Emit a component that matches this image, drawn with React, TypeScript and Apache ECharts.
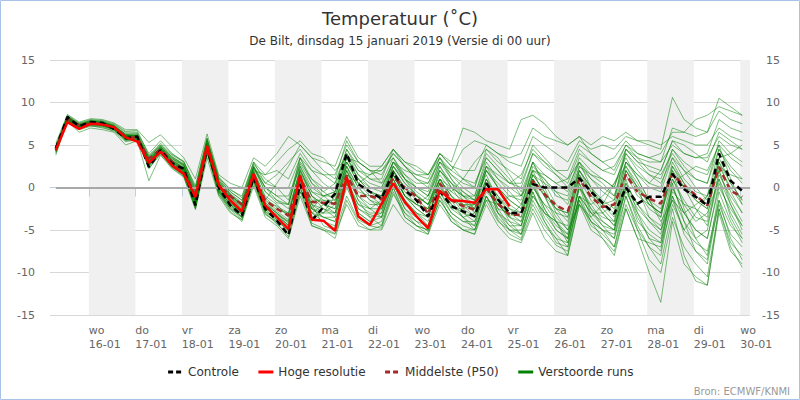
import React, { useEffect, useRef } from "react";
import * as echarts from "echarts";

const FONT = "DejaVu Sans";

// forecast lead times (hours after the 00 UTC run of 15-01, 6-hourly)
const leadHours = [
  6, 12, 18, 24, 30, 36, 42, 48, 54, 60, 66, 72, 78, 84, 90, 96, 102, 108, 114, 120,
  126, 132, 138, 144, 150, 156, 162, 168, 174, 180, 186, 192, 198, 204, 210, 216, 222, 228, 234, 240,
  246, 252, 258, 264, 270, 276, 282, 288, 294, 300, 306, 312, 318, 324, 330, 336, 342, 348, 354, 360,
];

// local midnight of 16-01 is lead +23h
const firstMidnight = 23;
const dayNames = ["wo", "do", "vr", "za", "zo", "ma", "di", "wo", "do", "vr", "za", "zo", "ma", "di", "wo"];
const dayDates = ["16-01", "17-01", "18-01", "19-01", "20-01", "21-01", "22-01", "23-01", "24-01", "25-01", "26-01", "27-01", "28-01", "29-01", "30-01"];

const yTicks = [-15, -10, -5, 0, 5, 10, 15];

const controle = [
  4.6, 8.3, 7.2, 7.7, 7.6, 6.9, 5.8, 6.0, 2.4, 4.4, 2.8, 2.2,
  -2.1, 4.6, 0.0, -2.1, -3.3, 1.2, -2.5, -3.9, -5.6, 0.4, -3.9, -2.3,
  -0.7, 4.0, 0.4, -0.5, -1.3, 1.8, -0.3, -1.5, -3.4, -0.4, -2.2, -2.8,
  -3.4, 0.5, -1.4, -3.0, -3.0, 0.4, 0.0, 0.0, 0.0, 1.1, -0.5, -1.8,
  -3.1, 0.0, -1.9, -1.1, -1.1, 1.6, -0.2, -1.1, -2.1, 4.0, 0.8, -0.4,
];

const hogeResolutie = [
  4.4, 7.7, 6.9, 7.5, 7.4, 7.1, 5.9, 5.4, 2.9, 4.2, 2.6, 1.6,
  -1.1, 4.9, 0.3, -1.5, -2.8, 1.6, -2.1, -3.5, -4.9, 1.4, -3.8, -3.9,
  -5.1, 1.2, -3.4, -4.4, -1.9, 0.5, -1.7, -3.4, -4.8, -0.4, -1.5, -1.6,
  -1.8, -0.2, -0.2, -2.2,
];

const middelste = [
  4.5, 8.1, 7.3, 7.6, 7.5, 7.0, 6.0, 5.8, 3.4, 4.5, 3.0, 2.0,
  -1.0, 4.7, 0.3, -1.0, -2.0, 1.5, -1.5, -2.5, -3.3, 1.2, -1.7, -1.8,
  -1.9, 1.4, -1.0, -1.0, -1.4, 1.2, 0.0, -1.1, -3.1, 0.5, -1.5, -2.2,
  -2.6, -0.1, -1.9, -3.2, -3.2, 0.8, -0.8, -2.1, -2.8, 1.0, -1.1, -2.3,
  -2.0, 1.5, -0.5, -1.3, -1.9, 1.6, 0.2, -0.9, -2.1, 2.4, -0.4, -1.1,
];

const run01 = [4.3, 8.4, 7.4, 7.8, 7.7, 7.0, 6.1, 6.2, 3.0, 4.8, 3.3, 2.5, -1.5, 5.2, 0.6, -1.2, -2.5, 2.0, -1.0, -2.0, -3.5, 2.5, -0.5, -1.5, -2.0, 3.0, 0.5, -0.5, -1.0, 2.5, 0.5, -0.8, -2.0, 1.5, -0.5, -1.5, -2.5, 2.0, 0.5, -1.0, -1.5, 3.0, 1.5, 0.5, -0.5, 3.5, 2.0, 1.0, 0.0, 4.0, 2.5, 1.5, 1.0, 4.5, 3.0, 2.0, 1.5, 5.0, 3.5, 2.5];
const run02 = [4.7, 8.1, 7.0, 7.4, 7.3, 6.8, 5.6, 5.7, 2.2, 4.0, 2.6, 1.8, -2.4, 4.2, -0.5, -2.6, -3.8, 0.8, -3.0, -4.2, -5.8, -0.5, -4.2, -4.8, -5.4, -1.0, -3.8, -4.5, -4.8, -0.8, -3.0, -4.0, -5.2, -1.5, -3.5, -4.5, -5.0, -1.0, -3.8, -5.5, -6.2, -2.5, -5.0, -6.8, -7.5, -1.5, -4.5, -5.5, -7.0, -2.0, -5.0, -8.5, -10.0, -3.5, -7.0, -9.0, -10.5, -2.5, -6.5, -8.0];
const run03 = [4.4, 8.2, 7.3, 7.5, 7.5, 7.2, 6.3, 5.9, 3.5, 4.6, 3.1, 2.3, -0.8, 4.8, 0.2, -1.8, -3.0, 1.3, -2.0, -3.0, -4.0, 1.0, -2.5, -3.5, -4.0, 0.5, -2.5, -3.2, -3.5, 1.0, -1.5, -3.0, -4.0, 0.0, -2.0, -3.5, -4.5, 0.5, -2.5, -4.5, -5.5, -0.5, -3.5, -5.5, -7.0, -1.0, -4.0, -6.0, -7.5, -2.5, -6.0, -10.0, -13.5, -4.0, -9.0, -10.5, -11.5, -3.0, -7.5, -9.0];
const run04 = [4.9, 8.3, 7.5, 7.9, 7.8, 7.4, 6.5, 6.5, 4.0, 5.5, 4.0, 3.0, 0.2, 5.8, 1.2, -0.3, -1.0, 3.0, 0.5, 1.5, 3.0, 4.5, 2.5, 1.5, 0.5, 4.5, 2.5, 1.0, 0.5, 3.5, 1.5, 0.0, -0.5, 3.0, 2.0, 4.5, 5.5, 5.0, 4.0, 3.0, 2.5, 6.0, 5.0, 4.0, 3.0, 5.5, 4.5, 5.0, 4.5, 6.0, 5.5, 5.0, 4.5, 10.6, 8.0, 7.0, 6.5, 10.5, 9.5, 8.5];
const run05 = [4.2, 8.0, 6.8, 7.2, 7.1, 6.6, 5.4, 5.6, 2.7, 4.3, 2.8, 1.9, -1.8, 4.5, -0.2, -2.0, -3.2, 1.8, -1.5, 0.5, 2.5, 5.0, 3.5, 2.0, 1.0, 5.5, 3.0, 2.0, 1.5, 4.0, 2.5, 1.0, 0.5, 3.5, 1.0, -0.5, -1.5, 2.5, 0.0, -2.0, -3.0, 1.5, -0.5, -2.5, -4.0, 1.0, -1.5, -3.0, -4.5, 1.5, -1.0, -2.0, -3.0, 2.5, 0.5, -1.0, -2.0, 3.0, 0.5, -1.5];
const run06 = [4.6, 8.5, 7.6, 8.0, 7.9, 7.5, 6.6, 6.7, 3.8, 5.0, 3.6, 2.8, -0.5, 5.5, 0.8, -0.8, -2.2, 2.5, -0.5, -1.5, -2.5, 2.0, -1.0, -2.5, -3.5, 1.5, -1.5, -2.5, -2.5, 2.0, -0.5, -2.0, -3.0, 1.0, -1.0, -2.5, -3.5, 1.0, -1.5, -3.5, -4.5, 0.5, -2.5, -4.5, -5.5, 0.0, -2.5, -3.5, -4.0, 2.0, -0.5, -2.5, -3.5, 2.5, 0.0, -2.5, -3.5, 3.5, 0.5, -1.5];
const run07 = [4.0, 7.8, 6.5, 7.0, 6.8, 6.5, 5.0, 5.5, 0.8, 3.8, 2.2, 1.2, -2.6, 3.5, -1.0, -3.0, -3.8, 0.5, -3.2, -4.0, -5.0, 0.0, -3.5, -3.0, -1.0, 2.5, 0.0, -1.5, -2.0, 1.5, -1.0, -2.5, -3.5, 0.5, -2.0, -3.0, -4.0, -0.5, -2.0, -3.5, -2.0, 2.0, 1.0, -1.0, -1.5, 2.5, 1.0, -0.5, -1.5, 3.0, 1.5, 0.0, -0.5, 3.5, 1.0, -0.5, -1.0, 4.5, 2.0, 0.5];
const run08 = [4.8, 8.0, 7.1, 7.6, 7.4, 7.0, 6.0, 6.1, 3.2, 4.7, 3.4, 2.6, -1.0, 5.0, 0.5, -1.0, -2.0, 2.2, 0.0, -1.0, -2.0, 3.0, 1.0, -0.5, -1.5, 3.5, 1.5, 0.5, 0.0, 3.0, 2.0, 1.5, 1.5, 4.0, 3.0, 7.0, 6.5, 5.5, 5.0, 4.5, 8.0, 8.5, 7.5, 6.0, 5.0, 6.0, 5.0, 6.0, 5.5, 6.5, 5.5, 5.5, 5.0, 6.0, 5.5, 5.0, 5.0, 7.0, 6.0, 5.5];
const run09 = [4.5, 8.3, 7.2, 7.6, 7.6, 7.1, 5.9, 5.8, 2.5, 4.4, 2.9, 2.1, -2.0, 4.4, -0.8, -2.8, -4.0, 0.2, -3.5, -4.5, -6.0, -1.0, -4.5, -5.0, -5.5, -2.0, -4.5, -5.0, -5.0, -2.0, -4.0, -5.0, -5.5, -2.0, -4.0, -5.0, -5.5, -2.0, -4.5, -6.0, -6.5, -3.0, -6.0, -7.5, -8.0, -2.0, -5.0, -6.0, -8.0, -2.5, -6.0, -6.5, -7.0, -2.0, -5.0, -6.5, -7.5, -1.5, -4.5, -6.0];
const run10 = [5.2, 8.6, 7.7, 8.1, 8.0, 7.6, 6.8, 6.8, 5.3, 6.2, 4.8, 3.5, 1.0, 6.3, 1.5, 0.5, 0.0, 3.5, 2.5, 4.0, 6.0, 5.0, 3.5, 3.0, 2.5, 6.0, 3.5, 2.5, 2.5, 4.5, 3.0, 2.5, 1.5, 4.0, 2.5, 1.0, 0.5, 3.5, 2.0, 0.5, 0.0, 4.0, 3.0, 2.0, 2.0, 5.0, 4.0, 3.0, 3.5, 5.5, 4.0, 3.5, 3.0, 5.0, 4.0, 3.5, 3.5, 6.0, 5.0, 4.5];
const run11 = [3.8, 7.9, 7.0, 7.3, 7.0, 6.7, 5.7, 5.9, 2.8, 4.2, 2.5, 1.5, -1.6, 4.0, 0.0, -1.5, -2.8, 1.0, -2.0, -3.0, -4.5, 0.5, -3.0, -4.0, -4.5, 0.0, -3.0, -4.0, -3.5, 0.5, -2.5, -3.5, -4.5, -1.0, -3.0, -4.0, -4.0, 0.0, -2.0, -2.5, -3.0, 1.0, -1.0, -3.5, -5.0, 0.5, -2.5, -4.5, -6.0, 0.0, -4.0, -5.5, -6.5, 0.0, -3.0, -5.0, -6.0, 0.0, -2.5, -4.5];
const run12 = [4.3, 7.8, 7.0, 7.5, 7.3, 7.0, 5.8, 5.6, 3.0, 4.3, 2.7, 1.7, -1.3, 4.8, 0.2, -1.8, -3.0, 1.5, -2.3, -3.6, -4.8, 1.5, -3.5, -4.0, -4.8, 1.5, -3.0, -4.0, -2.5, 1.0, -1.5, -3.0, -4.5, 0.0, -1.5, -2.0, -2.5, 0.5, -1.0, -3.0, -4.0, 0.0, -2.0, -4.0, -6.0, -1.0, -3.0, -4.5, -5.0, 0.5, -2.0, -3.5, -4.5, 1.0, -1.5, -3.5, -4.0, 1.5, -1.0, -3.0];
const run13 = [4.6, 8.2, 7.4, 7.7, 7.6, 7.3, 6.2, 6.0, 3.6, 4.9, 3.5, 2.7, -0.3, 5.5, 1.0, -0.5, -1.5, 2.8, 1.0, 0.0, -1.5, 3.5, 1.0, 0.0, 0.0, 4.5, 2.0, 1.0, 1.0, 4.5, 2.5, 1.0, 0.0, 3.5, 2.0, 1.0, 0.0, 4.0, 2.5, 1.0, -1.0, 3.0, 0.5, -2.0, -3.5, 2.0, 0.0, -2.0, -3.0, 3.0, 1.0, -1.5, -3.5, 2.0, -2.5, -6.0, -8.0, -2.0, -5.5, -7.0];
const run14 = [4.4, 8.0, 7.1, 7.6, 7.5, 6.9, 5.7, 5.5, 2.6, 4.1, 2.4, 1.4, -2.2, 4.6, -0.3, -2.0, -3.5, 1.0, -2.5, -3.5, -5.0, 1.5, -2.0, -3.0, -3.0, 2.0, -1.0, -2.0, -2.0, 2.0, 0.0, -1.5, -2.5, 1.0, -1.0, -3.0, -3.5, 0.5, -3.0, -5.0, -6.0, -1.5, -4.0, -6.0, -8.0, -2.0, -4.0, -5.0, -6.0, -1.0, -4.5, -7.0, -9.0, -2.5, -8.0, -11.0, -11.5, -2.5, -7.0, -9.4];
const run15 = [4.7, 8.4, 7.5, 7.9, 7.8, 7.3, 6.3, 6.4, 3.5, 5.0, 3.8, 3.0, -0.2, 5.6, 1.2, -0.2, -1.2, 3.0, 1.5, 2.0, 1.0, 4.0, 2.0, 0.5, -0.5, 4.0, 1.5, 0.0, 0.0, 3.0, 1.0, -0.5, -1.5, 2.5, 0.5, -1.0, -2.0, 2.0, 0.0, -1.5, -2.5, 2.5, 1.0, -0.5, -1.0, 3.0, 1.5, 0.5, -1.0, 4.0, 2.0, 0.5, 0.0, 4.5, 2.5, 1.0, 0.5, 5.5, 4.0, 3.0];
const run16 = [4.1, 7.9, 6.9, 7.3, 7.2, 6.8, 5.5, 5.8, 2.3, 3.9, 2.3, 1.3, -2.5, 4.1, -0.8, -2.5, -3.5, 0.8, -2.8, -4.0, -4.5, 0.5, -2.0, -4.5, -5.0, 0.5, -3.5, -4.5, -4.0, 0.0, -3.0, -4.5, -5.0, -1.5, -3.5, -5.0, -5.0, -1.5, -4.0, -5.0, -5.0, -1.0, -3.0, -4.0, -4.5, 1.5, -1.0, -2.0, -1.5, 4.5, 3.0, 2.5, 2.0, 5.5, 4.0, 3.5, 4.0, 8.0, 7.0, 6.5];
const run17 = [4.5, 8.1, 7.2, 7.7, 7.7, 7.2, 6.0, 5.9, 3.1, 4.5, 3.0, 2.2, -1.2, 5.0, 0.4, -1.4, -2.6, 1.8, -1.6, -2.6, -3.0, 2.0, -0.5, -1.0, -0.5, 3.0, 0.5, -1.0, -2.0, 1.5, -1.0, -2.0, -2.5, 1.0, 0.0, -1.0, -1.0, 3.0, 1.0, -0.5, -2.0, 2.0, -1.0, -4.0, -6.5, 0.5, -3.0, -4.0, -5.0, 1.0, -3.0, -6.0, -7.5, 0.5, -4.0, -6.0, -5.0, 2.0, -2.0, -5.0];
const run18 = [4.8, 8.3, 7.3, 7.8, 7.6, 7.2, 6.1, 6.2, 3.3, 4.8, 3.6, 2.7, -0.6, 5.3, 0.7, -0.9, -2.0, 2.3, -0.5, -1.8, -2.0, 3.5, 0.5, -1.0, -1.0, 3.5, 1.0, -0.5, -1.0, 3.0, 1.5, 0.5, 0.5, 3.0, 1.5, 0.5, 0.0, 4.5, 3.0, 2.0, 1.0, 5.0, 3.5, 2.0, 1.0, 4.5, 3.0, 2.0, 2.5, 5.0, 4.0, 3.5, 4.0, 6.5, 6.5, 8.0, 8.5, 9.5, 9.0, 8.5];
const run19 = [4.3, 8.2, 7.2, 7.5, 7.4, 6.9, 5.8, 5.7, 2.4, 4.2, 2.6, 1.6, -1.9, 4.3, -0.5, -2.2, -3.2, 1.2, -2.6, -3.8, -5.2, 0.0, -4.5, -5.0, -6.0, -1.5, -4.0, -5.0, -4.5, -0.5, -3.5, -4.5, -5.5, -1.0, -4.0, -5.0, -5.5, -1.0, -3.0, -4.0, -4.5, 0.0, -2.0, -3.0, -3.5, 1.5, -0.5, -2.0, -3.5, 2.0, 0.0, -1.5, -2.5, 3.0, 0.5, -1.5, -2.5, 3.0, -0.5, -3.0];
const run20 = [4.6, 8.2, 7.3, 7.7, 7.6, 7.1, 6.0, 6.0, 2.9, 4.4, 2.9, 2.0, -1.4, 4.7, 0.3, -1.2, -2.4, 1.7, -1.5, -2.2, -3.0, 1.5, -1.5, -1.5, -1.5, 2.0, -0.5, -1.0, -1.0, 2.0, 0.0, -1.0, -2.0, 1.0, -1.0, -2.0, -2.0, 1.0, -1.0, -2.5, -3.5, 1.0, -1.0, -2.5, -3.0, 2.0, 0.0, -1.5, -2.5, 2.0, 0.0, -2.0, -3.0, 2.0, 0.0, -1.5, -2.5, 2.5, 0.0, -2.0];
const run21 = [4.5, 8.0, 7.1, 7.5, 7.4, 7.0, 5.9, 5.9, 3.0, 4.4, 2.8, 1.9, -1.5, 4.6, 0.0, -1.6, -3.0, 1.4, -2.2, -3.2, -4.0, 1.0, -3.0, -3.5, -3.5, 1.0, -2.0, -3.0, -3.0, 1.0, -2.0, -3.0, -3.5, 0.5, -2.5, -3.5, -3.0, 1.0, -2.0, -3.5, -4.0, 0.5, -3.0, -5.0, -6.0, 0.0, -3.5, -5.0, -7.0, -1.0, -5.0, -7.0, -8.0, -1.0, -5.5, -7.5, -9.0, -1.5, -6.0, -8.5];
const run22 = [4.9, 8.4, 7.4, 7.8, 7.7, 7.2, 6.2, 6.3, 3.7, 5.2, 3.9, 3.1, 0.0, 5.8, 1.0, -0.5, -1.5, 2.6, 0.0, -1.0, -1.0, 2.5, 0.0, -1.0, -2.0, 3.0, 1.0, 0.0, -0.5, 3.0, 1.0, 0.0, -1.0, 2.0, 0.0, -1.0, -1.5, 2.5, 1.5, 0.5, 0.5, 4.0, 2.5, 1.5, 0.5, 4.0, 3.0, 2.0, 1.5, 4.5, 3.0, 1.5, 0.5, 3.5, 2.0, 1.0, 0.5, 4.5, 2.5, 1.0];
const run23 = [4.2, 8.1, 7.0, 7.4, 7.2, 6.9, 5.6, 5.6, 2.7, 4.1, 2.4, 1.6, -2.1, 4.2, -0.4, -2.3, -3.4, 1.0, -2.8, -3.8, -4.8, 0.0, -3.0, -2.0, -2.5, 2.5, -1.0, -2.5, -3.5, 0.5, -2.5, -4.0, -4.5, -0.5, -3.0, -4.0, -4.5, -1.0, -3.5, -5.0, -5.5, -2.0, -4.5, -6.0, -6.5, -1.5, -4.0, -5.0, -5.5, 0.0, -2.5, -4.0, -5.0, 0.0, -3.0, -5.0, -6.0, 0.5, -3.0, -5.5];
const run24 = [4.6, 8.3, 7.3, 7.7, 7.6, 7.2, 6.1, 6.1, 3.3, 4.7, 3.2, 2.4, -0.8, 5.1, 0.8, -0.7, -1.8, 2.4, 0.5, 0.0, 0.0, 3.5, 2.0, 1.5, 1.5, 5.0, 3.0, 2.0, 2.0, 4.0, 2.5, 1.5, 1.0, 4.0, 2.5, 2.0, 2.0, 5.0, 4.0, 3.5, 4.0, 7.0, 6.0, 5.5, 5.0, 6.0, 4.0, 3.0, 2.0, 5.0, 3.5, 3.0, 3.0, 7.0, 6.5, 6.0, 6.5, 9.0, 8.0, 7.5];
const run25 = [4.4, 8.2, 7.2, 7.6, 7.5, 7.1, 6.0, 6.0, 3.0, 4.6, 3.1, 2.3, -1.3, 4.9, 0.5, -1.0, -2.2, 2.0, 1.5, 3.0, 4.5, 5.5, 4.0, 3.5, 2.0, 3.5, 3.0, 2.0, 0.5, 2.0, -1.0, -2.5, -3.5, 0.5, -0.5, 1.0, 3.0, 4.5, 3.5, 1.5, -0.5, 3.0, 0.0, -3.0, -5.0, -2.0, -3.5, -2.0, 0.5, 3.5, 1.0, -1.5, -4.0, -1.5, -5.0, -3.0, -1.0, 3.5, 4.0, 5.0];
const run26 = [4.5, 8.0, 7.1, 7.7, 7.6, 7.0, 6.0, 5.8, 2.8, 4.3, 2.7, 1.8, -1.7, 4.4, -0.3, -1.9, -3.0, 1.3, -1.8, -3.0, -4.2, 0.8, -2.0, -2.5, -3.0, 1.5, 0.5, 1.5, 2.0, 3.5, 1.0, -1.0, -2.0, 1.0, -1.5, -3.5, -5.0, -1.5, -2.0, -1.0, -1.0, 2.0, 1.5, 0.5, 1.0, 3.0, 0.0, -2.5, -4.0, 0.5, -2.0, -4.0, -5.5, 0.5, 1.5, 2.5, 2.0, 5.0, 1.0, -2.0];
const run27 = [4.6, 8.3, 7.2, 7.5, 7.4, 7.0, 5.9, 5.9, 3.2, 4.5, 3.0, 2.1, -1.4, 4.6, 0.2, -1.6, -2.9, 1.4, -2.0, -3.3, -4.5, 1.8, -1.0, -2.0, -2.5, 2.0, -1.5, -3.5, -4.5, 0.0, -3.5, -4.5, -5.0, -0.5, -2.5, -2.5, -2.0, 2.0, 0.0, -1.5, -2.5, 1.5, -0.5, -2.5, -3.0, 2.5, 1.5, 1.0, 0.0, 4.5, 3.5, 2.0, 1.5, 4.0, 2.0, 0.0, -1.5, 2.0, -1.5, -4.0];
const run28 = [4.3, 8.0, 7.0, 7.5, 7.3, 6.8, 5.7, 5.7, 2.6, 4.2, 2.5, 1.5, -2.3, 4.3, -0.6, -2.4, -3.6, 0.9, -3.0, -4.3, -5.5, -0.5, -2.5, -1.0, -0.5, 3.5, 1.0, -0.5, -1.5, 2.5, 0.5, -1.0, -2.0, 2.0, 0.5, -0.5, -1.5, 1.5, -1.5, -4.0, -5.5, -1.0, -3.0, -4.0, -5.5, 0.0, -2.0, -4.0, -5.0, 0.0, -3.5, -6.0, -6.5, -1.0, -4.0, -7.5, -8.5, -0.5, -4.0, -6.5];
const run29 = [4.7, 8.2, 7.3, 7.8, 7.7, 7.3, 6.2, 6.1, 3.4, 4.8, 3.4, 2.6, -0.9, 5.2, 0.6, -0.8, -1.9, 2.4, 0.0, -1.5, -2.0, 2.8, 0.5, -0.5, 0.5, 4.0, 2.0, 1.5, 2.5, 4.5, 3.0, 2.0, 1.5, 3.5, 1.5, 0.0, -1.0, 3.5, 2.0, 0.5, 1.5, 4.5, 3.0, 1.5, 0.0, 3.0, 1.0, 0.0, -1.0, 3.0, 1.5, 0.5, 2.0, 5.5, 5.0, 4.0, 3.0, 6.5, 5.5, 4.5];
const run30 = [4.5, 8.1, 7.2, 7.6, 7.5, 7.0, 5.9, 5.9, 2.9, 4.5, 3.0, 2.0, -1.6, 4.5, -0.1, -1.7, -2.7, 1.6, -1.8, -2.8, -3.8, 1.5, -2.5, -3.0, -2.0, 2.5, 0.0, -1.5, -2.5, 1.5, -1.0, -2.0, -2.5, 2.0, 0.5, -1.5, -3.0, 0.5, -3.0, -4.5, -4.5, -0.5, -4.0, -6.5, -7.0, -1.0, -3.0, -3.0, -2.0, 2.5, 0.5, -2.0, -3.0, 1.0, -2.0, -4.0, -3.0, 1.0, -3.5, -6.0];
const run31 = [4.4, 8.3, 7.3, 7.6, 7.5, 7.1, 6.0, 6.1, 3.1, 4.6, 3.2, 2.3, -1.1, 4.9, 0.4, -1.1, -2.3, 1.9, -1.2, -2.4, -3.2, 2.2, -1.0, -2.0, -3.0, 1.0, -2.5, -3.5, -3.0, 1.5, -1.0, -2.0, -1.0, 3.0, 1.0, -1.0, -2.5, 2.5, 1.0, 0.0, -1.0, 1.0, -2.5, -5.0, -6.0, -1.0, -2.0, -1.0, 0.5, 2.5, 0.0, -3.5, -5.0, -1.5, -3.0, -2.0, -1.0, 2.5, 1.5, 1.0];
const run32 = [4.6, 8.1, 7.1, 7.6, 7.5, 7.0, 5.8, 5.8, 2.7, 4.3, 2.7, 1.9, -1.8, 4.5, -0.3, -2.0, -3.1, 1.1, -2.4, -3.4, -4.4, 0.8, -2.5, -3.5, -4.0, 0.5, -2.0, -2.5, -1.5, 2.5, 1.0, 0.0, -1.0, 2.5, 0.0, -2.0, -3.5, 0.0, -2.5, -3.0, -3.5, 1.5, 0.5, -0.5, -2.0, 2.0, -0.5, -3.0, -4.5, -0.5, -3.0, -5.0, -6.0, -0.5, -2.0, -2.5, -4.5, 1.0, -2.0, -4.5];

const verstoordeRuns = [
  run01, run02, run03, run04, run05, run06, run07, run08, run09, run10, run11, run12, run13, run14, run15, run16,
  run17, run18, run19, run20, run21, run22, run23, run24, run25, run26, run27, run28, run29, run30, run31, run32,
];

const toPoints = (values: number[]) => values.map((v, i) => [leadHours[i], v]);

export default function App() {
  const chartRef = useRef<HTMLDivElement>(null);

  useEffect(() => {
    document.body.style.margin = "0";
    if (!chartRef.current) return;
    const chart = echarts.init(chartRef.current, null, { renderer: "svg" });

    const xMin = 3;
    const xMax = 364;
    const dayTicks = dayDates.map((_, i) => firstMidnight + i * 24);
    // alternate days shaded grey, starting with 16-01
    const bands = dayTicks
      .filter((_, i) => i % 2 === 0)
      .map((start) => [{ xAxis: start }, { xAxis: Math.min(start + 24, xMax) }]);

    const lineBase = { type: "line", symbol: "none", silent: true, animation: false };

    const option = {
      animation: false,
      title: {
        text: "Temperatuur (˚C)",
        subtext: "De Bilt, dinsdag 15 januari 2019 (Versie di 00 uur)",
        left: "center",
        top: 4,
        itemGap: 8,
        textStyle: { fontFamily: FONT, fontSize: 18, fontWeight: "normal", color: "#333" },
        subtextStyle: { fontFamily: FONT, fontSize: 12, color: "#333" },
      },
      legend: {
        bottom: 17,
        left: "center",
        itemWidth: 15,
        itemHeight: 10,
        itemGap: 18,
        itemStyle: { opacity: 0 },
        lineStyle: { width: 3 },
        textStyle: { fontFamily: FONT, fontSize: 12, color: "#333" },
        data: [
          { name: "Controle", lineStyle: { type: [5, 3] } },
          { name: "Hoge resolutie" },
          { name: "Middelste (P50)", lineStyle: { type: [5, 3] } },
          { name: "Verstoorde runs", lineStyle: { opacity: 1 } },
        ],
      },
      graphic: [
        {
          type: "rect",
          shape: { x: 0.5, y: 0.5, width: 799, height: 399 },
          style: { fill: "none", stroke: "#a7c3e8", lineWidth: 1 },
          silent: true,
        },
        {
          type: "text",
          right: 10,
          bottom: 4,
          style: { text: "Bron: ECMWF/KNMI", fontFamily: FONT, fontSize: 10, fill: "#999" },
        },
      ],
      grid: { left: 50, right: 50, top: 60, bottom: 85, containLabel: false },
      xAxis: {
        type: "value",
        min: xMin,
        max: xMax,
        z: 1,
        axisLine: { show: true, lineStyle: { color: "#c0d0e0" } },
        axisTick: { show: true, length: 9, customValues: dayTicks, lineStyle: { color: "#c0d0e0" } },
        splitLine: { show: false },
        axisLabel: {
          customValues: dayTicks,
          align: "left",
          margin: 8,
          color: "#666",
          fontFamily: FONT,
          fontSize: 11,
          lineHeight: 14,
          formatter: (v: number) => {
            const i = Math.round((v - firstMidnight) / 24);
            return `${dayNames[i]}\n${dayDates[i]}`;
          },
        },
      },
      yAxis: [
        {
          type: "value",
          min: yTicks[0],
          max: yTicks[yTicks.length - 1],
          interval: 5,
          z: 1,
          axisLine: { show: false },
          axisTick: { show: false },
          splitLine: { lineStyle: { color: "#d8d8d8" } },
          axisLabel: { margin: 15, color: "#666", fontFamily: FONT, fontSize: 11 },
        },
        {
          type: "value",
          position: "right",
          min: yTicks[0],
          max: yTicks[yTicks.length - 1],
          interval: 5,
          z: 1,
          axisLine: { show: false },
          axisTick: { show: false },
          splitLine: { show: false },
          axisLabel: { margin: 30, align: "right", color: "#666", fontFamily: FONT, fontSize: 11 },
        },
      ],
      series: [
        {
          ...lineBase,
          name: "banden",
          data: [],
          z: 0,
          markArea: {
            silent: true,
            itemStyle: { color: "#f0f0f0" },
            data: bands,
          },
        },
        {
          ...lineBase,
          name: "nul",
          data: [],
          z: 2,
          markLine: {
            silent: true,
            symbol: "none",
            label: { show: false },
            lineStyle: { color: "#a8a8a8", width: 2, type: "solid" },
            data: [[{ coord: [leadHours[0], 0] }, { coord: [xMax, 0] }]],
          },
        },
        ...verstoordeRuns.map((run) => ({
          ...lineBase,
          name: "Verstoorde runs",
          data: toPoints(run),
          z: 3,
          color: "#008000",
          lineStyle: { color: "#008000", width: 1, opacity: 0.5 },
        })),
        {
          ...lineBase,
          name: "Middelste (P50)",
          data: toPoints(middelste),
          z: 4,
          color: "#a52a2a",
          lineStyle: { color: "#a52a2a", width: 2.5, type: [6, 4] },
        },
        {
          ...lineBase,
          name: "Controle",
          data: toPoints(controle),
          z: 5,
          color: "#000",
          lineStyle: { color: "#000", width: 2.5, type: [6, 4] },
        },
        {
          ...lineBase,
          name: "Hoge resolutie",
          data: toPoints(hogeResolutie),
          z: 6,
          color: "#ff0000",
          lineStyle: { color: "#ff0000", width: 2.5 },
        },
      ],
    };

    chart.setOption(option);

    return () => {
      chart.dispose();
    };
  }, []);

  return <div ref={chartRef} style={{ width: "800px", height: "400px" }} />;
}
